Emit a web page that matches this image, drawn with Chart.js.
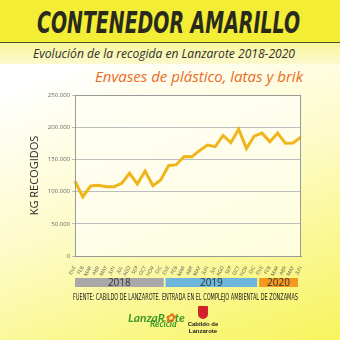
<!DOCTYPE html>
<html>
<head>
<meta charset="utf-8">
<script src="https://cdn.jsdelivr.net/npm/chart.js@4.4.1/dist/chart.umd.min.js"></script>
<style>
  html, body { margin: 0; padding: 0; }
  body {
    width: 340px; height: 340px; position: relative; overflow: hidden;
    background: linear-gradient(160deg, #ffffff 20%, #fdfbc8 55%, #f8f45c 100%);
    font-family: "Open Sans", sans-serif;
  }
  .band1 { position: absolute; left: 0; top: 0; width: 340px; height: 42px; background: #f3ee35; }
  .rule { position: absolute; left: 0; top: 42px; width: 340px; height: 1px; background: #4a4a30; }
  .band2 { position: absolute; left: 0; top: 43px; width: 340px; height: 21px; background: linear-gradient(180deg, #f8f59a, #fcfad0); }
  .fit { position: absolute; white-space: nowrap; transform-origin: 0 0; }
  #title { top: 4px; font-family: "DejaVu Sans Condensed", "Liberation Sans Narrow", sans-serif; font-weight: bold; font-style: italic; font-size: 31px; color: #2a2a1c; }
  #sub { top: 44px; font-style: italic; font-size: 13px; color: #2e2e2e; }
  #sub2 { top: 66px; font-size: 15px; color: #ea6b1f; font-style: italic; }
  #src { top: 293px; font-family: "Liberation Sans Narrow", "DejaVu Sans Condensed", sans-serif; font-size: 8px; color: #222; }
  #wrap { position: absolute; left: 0; top: 84px; width: 340px; height: 210px; }
  .logo1 { position: absolute; left: 128px; top: 306px; font-family: Lato, sans-serif; font-weight: bold; font-style: italic; color: #3f9a2a; }
  .logo1 .a { font-size: 12px; }
  .logo1 .b { position: absolute; left: 22px; top: 12px; font-size: 9px; }
  .shield { position: absolute; left: 198px; top: 306px; width: 10px; height: 13px; background: #d2232a; border-radius: 1px 1px 5px 5px; }
  .cab { position: absolute; left: 186px; top: 321px; width: 34px; text-align: center; font-family: "Liberation Sans", sans-serif; font-weight: bold; font-size: 6px; line-height: 7px; color: #222; }
</style>
</head>
<body>
<div class="band1"></div>
<div class="rule"></div>
<div class="band2"></div>
<div id="title" class="fit" data-l="37" data-w="263">CONTENEDOR AMARILLO</div>
<div id="sub" class="fit" data-l="33" data-w="262">Evolución de la recogida en Lanzarote 2018-2020</div>
<div id="sub2" class="fit" data-l="95" data-w="208">Envases de plástico, latas y brik</div>
<div id="wrap"><canvas id="graph-canvas"></canvas></div>
<div id="src" class="fit" data-l="73" data-w="225">FUENTE: CABILDO DE LANZAROTE. ENTRADA EN EL COMPLEJO AMBIENTAL DE ZONZAMAS</div>
<div class="logo1"><span class="a">LanzaR<span style="color:#e8731e">✿</span>te</span><span class="b">Recicla</span></div>
<div class="shield"></div>
<div class="cab">Cabildo de<br>Lanzarote</div>
<script>
const months = ['ENE', 'FEB', 'MAR', 'ABR', 'MAY', 'JUN', 'JUL', 'AGO', 'SEP', 'OCT', 'NOV', 'DIC'];
const years = ['2018', '2019', '2020'];
const monthsPerYear = [12, 12, 6];
const yearColors = ['#a8a8a8', '#6cb6dc', '#f39a1e'];
const kgRecogidos = [
  116000, 92000, 108700, 109800, 107600, 107600, 112900, 128400, 111800, 132000, 109000, 118000,
  140200, 141800, 154500, 154200, 164000, 172200, 169800, 187200, 176000, 197000, 167100, 186000,
  190800, 177500, 190800, 175000, 175500, 185000
];
const yTicks = [0, 50000, 100000, 150000, 200000, 250000];

// fit header/footer texts to their width
document.querySelectorAll('.fit').forEach(function (el) {
  let w = el.getBoundingClientRect().width;
  el.style.left = el.dataset.l + 'px';
  el.style.transform = 'scaleX(' + (el.dataset.w / w) + ')';
});

let labels = [];
years.forEach(function (y, i) {
  for (let m = 0; m < monthsPerYear[i]; m++) labels.push(months[m]);
});

function fmt(v) {
  return String(v).replace(/\B(?=(\d{3})+(?!\d))/g, '.');
}

// plot background, outer box and the year bars under the axis
const decor = {
  id: 'decor',
  beforeDraw: function (chart) {
    const a = chart.chartArea, c = chart.ctx;
    c.save();
    c.fillStyle = 'rgba(255,255,245,0.75)';
    c.fillRect(a.left, a.top, a.right - a.left, a.bottom - a.top);
    c.restore();
  },
  afterDraw: function (chart) {
    const a = chart.chartArea, c = chart.ctx, x = chart.scales.x;
    c.save();
    c.strokeStyle = '#9a9a9a';
    c.lineWidth = 1;
    c.strokeRect(a.left + 0.5, a.top + 0.5, a.right - a.left - 1, a.bottom - a.top);
    let step = x.getPixelForValue(1) - x.getPixelForValue(0);
    let start = 0;
    years.forEach(function (y, i) {
      let l = Math.max(a.left, x.getPixelForValue(start) - step * 0.38);
      let r = Math.min(a.right - 3, x.getPixelForValue(start + monthsPerYear[i] - 1) + step * 0.38);
      c.fillStyle = yearColors[i];
      c.fillRect(l, a.bottom + 22, r - l, 9);
      c.fillStyle = '#333';
      c.font = '10px "Open Sans"';
      c.textAlign = 'center';
      c.textBaseline = 'middle';
      c.fillText(y, (l + r) / 2, a.bottom + 27);
      start += monthsPerYear[i];
    });
    c.restore();
  }
};

let chartdata = {
  labels: labels,
  datasets: [
    {
      label: 'KG RECOGIDOS',
      data: kgRecogidos,
      borderColor: '#f1b51c',
      backgroundColor: '#f1b51c',
      borderWidth: 3,
      pointRadius: 0,
      tension: 0,
      borderJoinStyle: 'miter'
    }
  ]
};

let graphTarget = document.getElementById('graph-canvas');
let lineGraph = new Chart(graphTarget, {
  type: 'line',
  data: chartdata,
  plugins: [decor],
  options: {
    responsive: true,
    maintainAspectRatio: false,
    animation: false,
    layout: { padding: { left: 28, top: 11, right: 39, bottom: 0 } },
    plugins: {
      legend: { display: false },
      tooltip: { enabled: false }
    },
    scales: {
      x: {
        offset: false,
        afterFit: function (s) { s.height = 38; },
        grid: { display: false },
        border: { color: '#9a9a9a' },
        ticks: {
          autoSkip: false,
          minRotation: 60,
          maxRotation: 60,
          padding: 1,
          color: '#555',
          font: { size: 5, family: 'Open Sans' }
        }
      },
      y: {
        min: 0,
        max: 250000,
        afterFit: function (s) { s.width = 47; },
        afterBuildTicks: function (s) { s.ticks = yTicks.map(function (v) { return { value: v }; }); },
        grid: { color: '#bdbdbd', tickLength: 3 },
        border: { color: '#9a9a9a' },
        title: {
          display: true,
          text: 'KG RECOGIDOS',
          color: '#2b2b2b',
          padding: 0,
          font: { size: 11, family: 'Open Sans' }
        },
        ticks: {
          color: '#666',
          padding: 2,
          font: { size: 6, family: 'Open Sans' },
          callback: function (v) { return fmt(v); }
        }
      }
    }
  }
});
</script>
</body>
</html>
